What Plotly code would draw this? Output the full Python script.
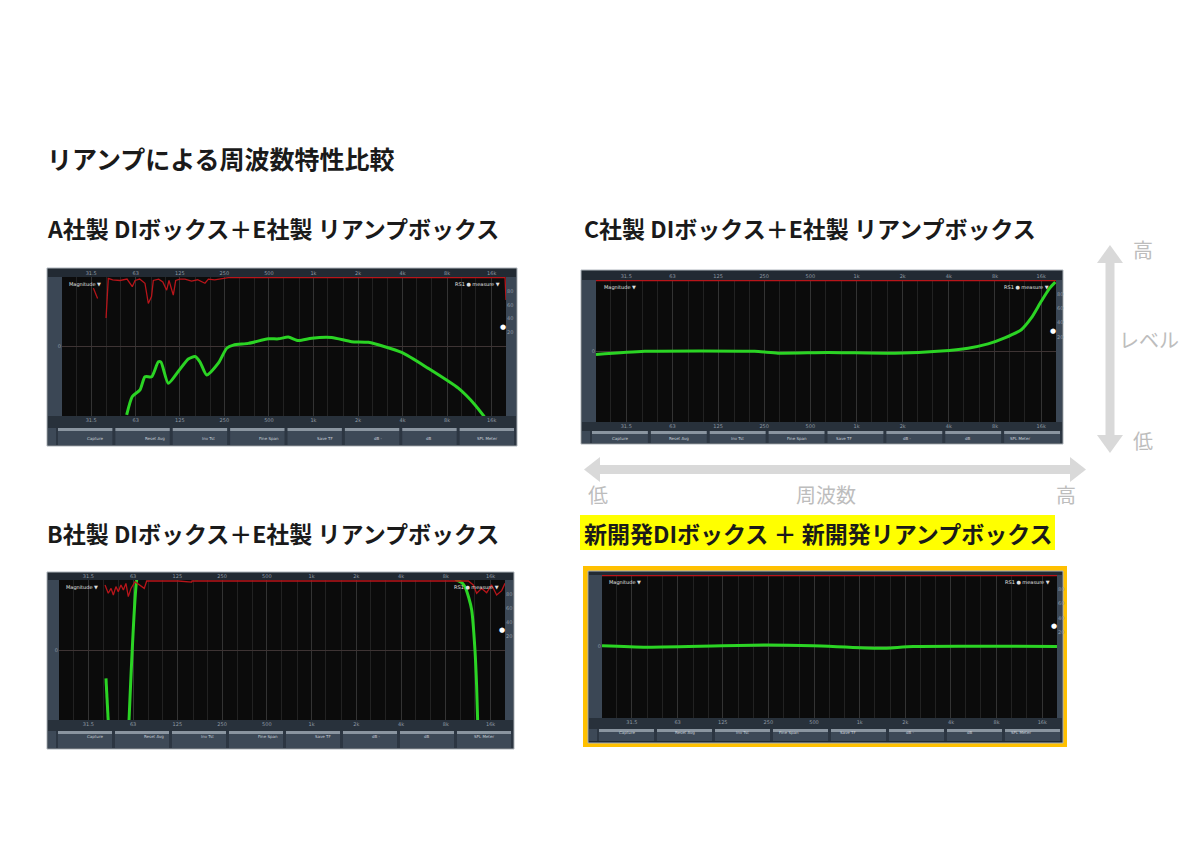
import math
import plotly.graph_objects as go

# ---------------- data ----------------
FREQ_TICKS = [31.5, 63, 125, 250, 500, 1000, 2000, 4000, 8000, 16000]
FREQ_TICK_TEXT = ["31.5", "63", "125", "250", "500", "1k", "2k", "4k", "8k", "16k"]
GRID_FREQS = [20, 25, 31.5, 40, 50, 63, 80, 100, 125, 160, 200, 250, 315, 400, 500, 630,
              800, 1000, 1250, 1600, 2000, 2500, 3150, 4000, 5000, 6300, 8000, 10000,
              12500, 16000, 20000]
COH_TICKS = [20, 40, 60, 80]
BUTTON_LABELS = ["Capture", "Reset Avg", "Inv Tst", "Fine Span", "Save TF", "dB -", "dB", "SPL Meter"]

TITLE_MAIN = "リアンプによる周波数特性比較"
TITLE_A = "A社製 DIボックス＋E社製 リアンプボックス"
TITLE_B = "B社製 DIボックス＋E社製 リアンプボックス"
TITLE_C = "C社製 DIボックス＋E社製 リアンプボックス"
TITLE_D = "新開発DIボックス ＋ 新開発リアンプボックス"

# A: magnitude (Hz, dB) and coherence (Hz, %)
A_MAG_F = [54.7, 59.7, 67.3, 72.7, 80.7, 89.5, 93.3, 104.5, 122, 142.7, 158.4, 171, 190,
           227.6, 259.5, 287.6, 363, 495, 579, 676, 791, 973, 1328, 1812, 2350, 3946,
           5972, 9527, 12360, 14280]
A_MAG_DB = [-19.7, -14.4, -12.5, -8.7, -8.7, -4.4, -4.5, -10.6, -7.2, -3.6, -2.9, -4.4, -8.2,
            -4.8, -0.5, 0.4, 0.9, 2.2, 2.2, 2.7, 1.7, 2.4, 2.6, 1.4, 1.2, -1.7,
            -6.3, -12.0, -16.8, -20.2]
A_COH_F = [32.6, 34.8, None, 39.7, 41.1, 44, 49.3, 55, 59.7, 62.3, 67, 72.7, 76.6, 80.5,
           82.8, 90, 96, 101.9, 105.7, 113, 117.3, 125, 135.6, 150, 165, 184.9, 195, 215,
           240, 266, 400, 1000, 5000, 19700, 20000]
A_COH = [84, 69, None, 41, 98, 96, 95, 97, 86, 95, 97, 91, 62, 72,
         95, 97, 93, 81, 95, 74, 95, 97, 97, 94, 96, 91, 97, 96,
         98, 99, 99.3, 99.3, 99.3, 99.3, 67]

# B
B_MAG_F = [41.4, 42.9, None, 59.1, 66.6, 72, 9000, 9461, 10200, 10760, 11400, 11940,
           12560, 12890, 13100]
B_MAG_DB = [-8.1, -20.5, None, -20.5, 20, 26, 21, 20, 19.3, 18.1, 15, 11.4,
            0, -10.5, -20.5]
B_COH_F = [40.8, 42.9, 44.8, 46.4, 48.3, 50.1, 52.2, 54.2, 56.4, 58.5, 61, 64.9, 74.9,
           77.8, 126.9, 156, 157, 9215, 11330, 12240, 12890, 13940, 15060, 16260, 17580,
           19000, 20000]
B_COH = [92.9, 81, 88, 78.6, 90.5, 83.3, 92.9, 85.7, 95.2, 76.2, 88, 97.6, 88,
         98.6, 98.6, 97, 98.6, 98.6, 98.6, 92.9, 81, 88, 81.9, 92.9, 78.6,
         84.8, 95.2]

# C
C_MAG_F = [20, 41.6, 216.8, 307.6, 651.8, 1774, 3573, 5335, 7209, 9255, 11880, 13800,
           16030, 18200, 19800]
C_MAG_DB = [-1.0, -0.1, -0.1, -0.6, -0.4, -0.6, 0.0, 0.8, 2.0, 3.7, 6.0, 9.3,
            14.0, 17.7, 19.4]
C_COH_F = [20, 20000]
C_COH = [99.2, 99.2]

# D
D_MAG_F = [20, 39.4, 244, 494, 1361, 2255, 20000]
D_MAG_DB = [0.2, -0.2, 0.4, 0.2, -0.5, 0.0, 0.0]
D_COH_F = [20, 20000]
D_COH = [99.2, 99.2]

# ---------------- layout helpers ----------------
# page body has an 8px margin: figure is 1184x834 placed at (8, 8)
OFF = 8
FW, FH = 1184, 834
def X(px):
    return (px - OFF) / FW
def Y(py):
    return 1 - (py - OFF) / FH

FONT = "Noto Sans CJK JP"

PANELS = [
    dict(frame=(47, 517, 268, 446), plot=(62, 506, 277, 416), buttons=(428, 445),
         mag=(A_MAG_F, A_MAG_DB), coh=(A_COH_F, A_COH), top=True),
    dict(frame=(581, 1063, 270, 444), plot=(596, 1056, 280, 422), buttons=(431, 443),
         mag=(C_MAG_F, C_MAG_DB), coh=(C_COH_F, C_COH), top=True),
    dict(frame=(47, 514, 572, 749), plot=(59, 505, 580, 720), buttons=(731, 748),
         mag=(B_MAG_F, B_MAG_DB), coh=(B_COH_F, B_COH), top=True),
    dict(frame=(588, 1063, 571, 743), plot=(602, 1057, 575, 718), buttons=(729, 741),
         mag=(D_MAG_F, D_MAG_DB), coh=(D_COH_F, D_COH), top=False),
]

fig = go.Figure()
shapes = []
annotations = []
layout_axes = {}

def rect(x0, x1, y0, y1, fill, line=None, lw=0):
    shapes.append(dict(type="rect", xref="paper", yref="paper", layer="below",
                       x0=X(x0), x1=X(x1), y0=Y(y1), y1=Y(y0), fillcolor=fill,
                       line=dict(color=line or fill, width=lw)))

def path(points, fill):
    d = "M " + " L ".join(f"{X(a):.5f},{Y(b):.5f}" for a, b in points) + " Z"
    shapes.append(dict(type="path", xref="paper", yref="paper", layer="below", path=d,
                       fillcolor=fill, line=dict(width=0)))

def text(t, x, y, size, color="#1a1a1a", xanchor="left", bold=True):
    annotations.append(dict(text=f"<b>{t}</b>" if bold else t, x=X(x), y=Y(y),
                            xref="paper", yref="paper", xanchor=xanchor, yanchor="middle",
                            showarrow=False, font=dict(family=FONT, size=size, color=color)))

# orange highlight frame for D
rect(583, 1067, 566, 747, "#ffc000")

XR = [math.log10(20), math.log10(20000)]
tickfont = dict(size=5, color="#8f99a3", family="DejaVu Sans")

for i, p in enumerate(PANELS):
    fx0, fx1, fy0, fy1 = p["frame"]
    px0, px1, py0, py1 = p["plot"]
    by0, by1 = p["buttons"]
    # frame pieces
    rect(fx0, fx1, fy0, fy1, "#222a33", "#aeb5bc", 1)
    rect(fx0 + 1, px0, py0, py1, "#3b4755")
    rect(px1, fx1 - 1, py0, py1, "#3b4755")
    rect(fx0 + 1, fx1 - 1, py1, by0, "#28313b")
    rect(fx0 + 1, fx1 - 1, by0, by1, "#2c3642")
    rect(px0, px1, py0, py1, "#0b0b0b")
    # buttons
    rect(fx0 + 1, fx0 + 9, by0, by1, "#3d4957")
    start, end, gap = fx0 + 11, fx1 - 3, 3
    bw = (end - start - 7 * gap) / 8
    for k, lab in enumerate(BUTTON_LABELS):
        bx0 = start + k * (bw + gap)
        rect(bx0, bx0 + bw, by0, by0 + 3, "#8a95a0")
        rect(bx0, bx0 + bw, by0 + 3, by1, "#3d4957")
        annotations.append(dict(text=lab, x=X(bx0 + bw / 2), y=Y((by0 + 3 + by1) / 2),
                                xref="paper", yref="paper", showarrow=False,
                                font=dict(size=4, color="#c9d0d7", family="DejaVu Sans")))

    n = i + 1
    xa = "x" if n == 1 else f"x{n}"
    ya = "y" if n == 1 else f"y{n}"
    xt, yr = f"x{n + 4}", f"y{n + 4}"
    xkey = "xaxis" if n == 1 else f"xaxis{n}"
    ykey = "yaxis" if n == 1 else f"yaxis{n}"
    xdom = [X(px0), X(px1)]
    ydom = [Y(py1), Y(py0)]

    layout_axes[xkey] = dict(domain=xdom, anchor=ya, type="log", range=XR,
                             tickmode="array", tickvals=FREQ_TICKS, ticktext=FREQ_TICK_TEXT,
                             tickfont=tickfont, ticks="", showgrid=True, gridcolor="#333333",
                             gridwidth=1, zeroline=False, showline=False, fixedrange=True,
                             minor=dict(tickmode="array", tickvals=GRID_FREQS, showgrid=True,
                                        gridcolor="#222222", gridwidth=1, ticks=""))
    layout_axes[f"xaxis{n + 4}"] = dict(domain=xdom, anchor=ya, overlaying=xa, side="top",
                                        type="log", range=XR, tickmode="array",
                                        tickvals=FREQ_TICKS, ticktext=FREQ_TICK_TEXT,
                                        showticklabels=p["top"],
                                        tickfont=tickfont, ticks="", showgrid=False,
                                        zeroline=False, showline=False, fixedrange=True)
    layout_axes[ykey] = dict(domain=ydom, anchor=xa, range=[-20, 20], tickmode="array",
                             tickvals=[0], ticktext=["0"], tickfont=tickfont, ticks="",
                             showgrid=False, zeroline=True, zerolinecolor="#3e3434",
                             zerolinewidth=1, showline=False, fixedrange=True)
    layout_axes[f"yaxis{n + 4}"] = dict(domain=ydom, anchor=xa, overlaying=ya, side="right",
                                        range=[-100, 100], tickmode="array", tickvals=COH_TICKS,
                                        tickfont=tickfont, ticks="", showgrid=False,
                                        zeroline=False, showline=False, fixedrange=True)

    cf, cv = p["coh"]
    fig.add_trace(go.Scatter(x=cf, y=cv, xaxis=xa, yaxis=yr, mode="lines",
                             line=dict(color="#b8151a", width=1.3), connectgaps=False,
                             hoverinfo="skip", showlegend=False))
    mf, mv = p["mag"]
    fig.add_trace(go.Scatter(x=mf, y=mv, xaxis=xa, yaxis=ya, mode="lines",
                             line=dict(color="#2bd424", width=3, shape="spline", smoothing=0.6),
                             connectgaps=False, hoverinfo="skip", showlegend=False))
    fig.add_trace(go.Scatter(x=[20, 20000], y=[0, 0], xaxis=xt, yaxis=ya, mode="lines",
                             line=dict(width=0), opacity=0, hoverinfo="skip", showlegend=False))

    annotations.append(dict(text="Magnitude ▼", xref=f"{xa} domain", yref=f"{ya} domain",
                            x=0.012, y=0.985, xanchor="left", yanchor="top", showarrow=False,
                            font=dict(size=5, color="#e0e0e0", family="DejaVu Sans")))
    annotations.append(dict(text="RS1 ● measure ▼", xref=f"{xa} domain", yref=f"{ya} domain",
                            x=0.99, y=0.985, xanchor="right", yanchor="top", showarrow=False,
                            font=dict(size=5, color="#e0e0e0", family="DejaVu Sans")))
    annotations.append(dict(text="●", xref=f"{xa} domain", yref=ya, x=0.993, y=5.7,
                            xanchor="center", yanchor="middle", showarrow=False,
                            font=dict(size=7, color="#ffffff", family="DejaVu Sans")))

# titles
text(TITLE_MAIN, 45, 158, 25)
text(TITLE_A, 45, 228, 23)
text(TITLE_C, 582, 228, 23)
text(TITLE_B, 45, 533, 23)
rect(580, 1055, 515, 550, "#ffff00")
text(TITLE_D, 582, 533, 23)

# level arrow (vertical)
ARROW = "#d9d9d9"
LABEL = "#bdbdbd"
rect(1105.5, 1114.5, 260, 438, ARROW)
path([(1097, 263), (1110, 245), (1123, 263)], ARROW)
path([(1097, 435), (1110, 453), (1123, 435)], ARROW)
text("高", 1143, 250, 20, LABEL, "center", bold=False)
text("レベル", 1149, 339, 20, LABEL, "center", bold=False)
text("低", 1143, 440, 20, LABEL, "center", bold=False)

# frequency arrow (horizontal)
rect(597, 1073, 465, 474, ARROW)
path([(600, 457), (584, 469.5), (600, 482)], ARROW)
path([(1070, 457), (1086, 469.5), (1070, 482)], ARROW)
text("低", 598, 494, 20, LABEL, "center", bold=False)
text("周波数", 826, 494, 20, LABEL, "center", bold=False)
text("高", 1066, 494, 20, LABEL, "center", bold=False)

fig.update_layout(width=FW, height=FH, autosize=False, margin=dict(l=0, r=0, t=0, b=0),
                  paper_bgcolor="#ffffff", plot_bgcolor="#0b0b0b", showlegend=False,
                  shapes=shapes, annotations=annotations, **layout_axes)

fig.write_html("out.html")
